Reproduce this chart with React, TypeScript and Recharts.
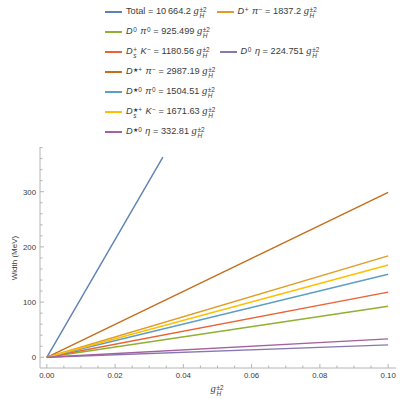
import { LineChart, Line, XAxis, YAxis } from 'recharts';

const FONT = '"Liberation Sans", Arial, sans-serif';
const FRAME = '#b4b4b4';
const INK = '#3a3a3a';

// channel labels: base text, subscript, superscript, italic
type Part = { b: string; sub?: string; sup?: string; it?: boolean };

const seriesLabels: Part[][] = [
  [{ b: 'Total' }],
  [{ b: 'D', sup: '+', it: true }, { b: 'π', sup: '−', it: true }],
  [{ b: 'D', sup: '0', it: true }, { b: 'π', sup: '0', it: true }],
  [{ b: 'D', sub: 's', sup: '+', it: true }, { b: 'K', sup: '−', it: true }],
  [{ b: 'D', sup: '0', it: true }, { b: 'η', it: true }],
  [{ b: 'D', sup: '★+', it: true }, { b: 'π', sup: '−', it: true }],
  [{ b: 'D', sup: '★0', it: true }, { b: 'π', sup: '0', it: true }],
  [{ b: 'D', sub: 's', sup: '★+', it: true }, { b: 'K', sup: '−', it: true }],
  [{ b: 'D', sup: '★0', it: true }, { b: 'η', it: true }],
];
const seriesCoeffs = ['10\u2009664.2', '1837.2', '925.499', '1180.56', '224.751', '2987.19', '1504.51', '1671.63', '332.81'];
const seriesColors = ['#5E81B5', '#E19C24', '#8FB032', '#EB6235', '#8778B3', '#C56E1A', '#5D9EC7', '#FFBF00', '#A5609D'];
// end points of each line (width in MeV vs g_H^2)
const seriesEndX = [0.034, 0.1, 0.1, 0.1, 0.1, 0.1, 0.1, 0.1, 0.1];
const seriesEndY = [362.6, 183.72, 92.55, 118.06, 22.48, 298.72, 150.45, 167.16, 33.28];

const legendRows = [[0, 1], [2], [3, 4], [5], [6], [7], [8]];

const xTicks = [0, 0.005, 0.01, 0.015, 0.02, 0.025, 0.03, 0.035, 0.04, 0.045, 0.05, 0.055, 0.06, 0.065, 0.07, 0.075, 0.08, 0.085, 0.09, 0.095, 0.1];
const yTicks = [0, 20, 40, 60, 80, 100, 120, 140, 160, 180, 200, 220, 240, 260, 280, 300, 320, 340, 360, 380];

const isMajor = (v: number, step: number) => Math.abs(v / step - Math.round(v / step)) < 1e-6;

function BottomTick({ x, y, payload }: any) {
  const major = isMajor(payload.value, 0.02);
  return (
    <g>
      <line x1={x} x2={x} y1={y} y2={y - (major ? 4 : 2.5)} stroke={FRAME} />
      {major && (
        <text x={x} y={y + 10} textAnchor="middle" fontSize={7.8} fill={INK} fontFamily={FONT}>
          {payload.value.toFixed(2)}
        </text>
      )}
    </g>
  );
}

function TopTick({ x, y, payload }: any) {
  const major = isMajor(payload.value, 0.02);
  return <line x1={x} x2={x} y1={y} y2={y + (major ? 4 : 2.5)} stroke={FRAME} />;
}

function LeftTick({ x, y, payload }: any) {
  const major = isMajor(payload.value, 100);
  return (
    <g>
      <line x1={x} x2={x + (major ? 4 : 2.5)} y1={y} y2={y} stroke={FRAME} />
      {major && (
        <text x={x - 4} y={y + 2.8} textAnchor="end" fontSize={7.8} fill={INK} fontFamily={FONT}>
          {payload.value}
        </text>
      )}
    </g>
  );
}

function RightTick({ x, y, payload }: any) {
  const major = isMajor(payload.value, 100);
  return <line x1={x} x2={x - (major ? 4 : 2.5)} y1={y} y2={y} stroke={FRAME} />;
}

// stacked superscript (top) / subscript (bottom)
function Scripts({ sup, sub }: { sup?: string; sub?: string }) {
  return (
    <span
      style={{
        display: 'inline-flex',
        flexDirection: 'column',
        verticalAlign: '0.38em',
        fontSize: '0.7em',
        lineHeight: 0.95,
        marginLeft: 0.6,
      }}
    >
      <span>{sup ?? '\u00a0'}</span>
      {sub && <i>{sub}</i>}
    </span>
  );
}

function GH() {
  return (
    <span style={{ whiteSpace: 'nowrap' }}>
      <i style={{ fontFamily: '"Liberation Serif", serif', fontSize: '1.15em' }}>g</i>
      <Scripts sup="±2" sub="H" />
    </span>
  );
}

function Label({ parts }: { parts: Part[] }) {
  return (
    <>
      {parts.map((p, i) => (
        <span key={i} style={{ marginRight: i < parts.length - 1 ? 3.5 : 0 }}>
          {p.it ? <i>{p.b}</i> : p.b}
          {(p.sub || p.sup) && <Scripts sup={p.sup} sub={p.sub} />}
        </span>
      ))}
    </>
  );
}

export default function App() {
  return (
    <div style={{ position: 'absolute', left: 0, top: 0, width: 407, height: 399, background: '#fff' }}>
      <LineChart width={407} height={399} margin={{ top: 147, right: 11, bottom: 0, left: 0 }}>
        <XAxis
          type="number"
          dataKey="x"
          domain={[-0.002, 0.1023]}
          ticks={xTicks}
          interval={0}
          tickSize={0}
          tickMargin={0}
          height={31}
          stroke={FRAME}
          tick={<BottomTick />}
          allowDataOverflow
        />
        <XAxis
          xAxisId="top"
          orientation="top"
          type="number"
          dataKey="x"
          domain={[-0.002, 0.1023]}
          ticks={xTicks}
          interval={0}
          tickSize={0}
          tickMargin={0}
          height={0}
          stroke={FRAME}
          tick={<TopTick />}
          allowDataOverflow
        />
        <YAxis
          type="number"
          dataKey="y"
          domain={[-19.4, 381]}
          ticks={yTicks}
          interval={0}
          tickSize={0}
          tickMargin={0}
          width={40}
          stroke={FRAME}
          tick={<LeftTick />}
          allowDataOverflow
        />
        <YAxis
          yAxisId="right"
          orientation="right"
          type="number"
          dataKey="y"
          domain={[-19.4, 381]}
          ticks={yTicks}
          interval={0}
          tickSize={0}
          tickMargin={0}
          width={0}
          stroke={FRAME}
          tick={<RightTick />}
          allowDataOverflow
        />
        {seriesColors.map((c, i) => (
          <Line
            key={i}
            data={[
              { x: 0, y: 0 },
              { x: seriesEndX[i], y: seriesEndY[i] },
            ]}
            dataKey="y"
            stroke={c}
            strokeWidth={1.4}
            dot={false}
            isAnimationActive={false}
          />
        ))}
      </LineChart>

      <div
        style={{
          position: 'absolute',
          left: 105,
          top: 2,
          fontFamily: FONT,
          fontSize: 9.2,
          color: INK,
        }}
      >
        {legendRows.map((row, r) => (
          <div key={r} style={{ height: 20, display: 'flex', alignItems: 'center' }}>
            {row.map((i, k) => (
              <div key={i} style={{ display: 'flex', alignItems: 'center', marginLeft: k > 0 ? 10 : 0 }}>
                <div style={{ width: 17, height: 1.6, background: seriesColors[i], marginRight: 4 }} />
                <span style={{ whiteSpace: 'nowrap' }}>
                  <Label parts={seriesLabels[i]} /> = {seriesCoeffs[i]} <GH />
                </span>
              </div>
            ))}
          </div>
        ))}
      </div>

      <div
        style={{
          position: 'absolute',
          left: 14,
          top: 258,
          transform: 'translate(-50%, -50%) rotate(-90deg)',
          fontFamily: FONT,
          fontSize: 8,
          color: INK,
          whiteSpace: 'nowrap',
        }}
      >
        Width (MeV)
      </div>

      <div
        style={{
          position: 'absolute',
          left: 217,
          top: 390,
          transform: 'translate(-50%, -50%)',
          fontFamily: FONT,
          fontSize: 9.2,
          color: INK,
        }}
      >
        <GH />
      </div>
    </div>
  );
}
